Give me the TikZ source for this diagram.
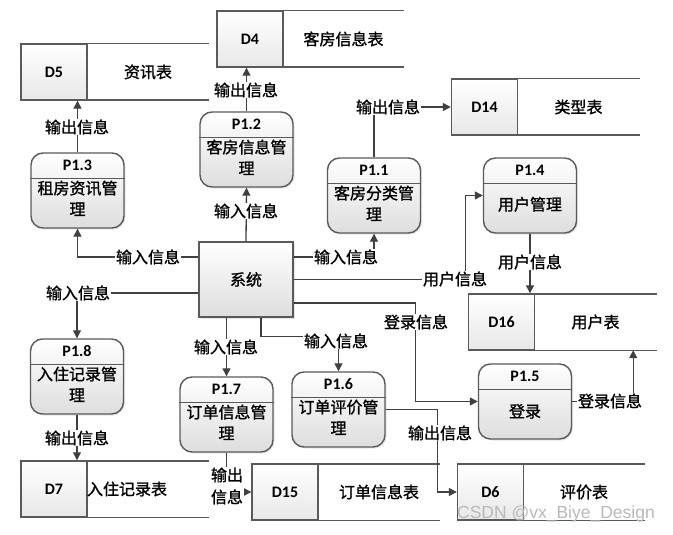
\documentclass[tikz,border=0pt]{standalone}
\usepackage{fontspec}
\setmainfont{Carlito}
\newfontfamily\cjk[FakeBold=1.2]{Noto Sans CJK SC}
\newfontfamily\wmfont{Liberation Sans}
\usetikzlibrary{arrows.meta,shadows}

\definecolor{linegray}{HTML}{404040}
\definecolor{boxgray}{HTML}{5A5A5A}
\definecolor{fillgray}{HTML}{DEDEDE}

\tikzset{
  flow/.style={draw=linegray, line width=1.3pt, -{Triangle[length=8pt,width=8pt]}},
  proc/.style={draw=boxgray, line width=1.4pt, rounded corners=12pt,
    minimum width=93pt, minimum height=75pt, top color=white, bottom color=fillgray,
    drop shadow={shadow xshift=1.5pt, shadow yshift=-1.5pt, opacity=0.2}},
  sysbox/.style={draw=boxgray, line width=1.4pt, minimum width=94pt, minimum height=75pt,
    top color=white, bottom color=fillgray,
    drop shadow={shadow xshift=1.5pt, shadow yshift=-1.5pt, opacity=0.2}},
  divline/.style={draw=boxgray, line width=1.2pt},
  ptitle/.style={font=\bfseries\fontsize{16}{19}\selectfont, inner sep=0pt},
  ptext/.style={font=\cjk\fontsize{16}{21}\selectfont, align=center, inner sep=0pt},
  storeid/.style={draw=boxgray, line width=1.4pt, minimum width=66pt, minimum height=56pt,
    top color=white, bottom color=fillgray!70, font=\bfseries\fontsize{16}{19}\selectfont},
  storename/.style={minimum height=56pt, inner sep=0pt, font=\cjk\fontsize{16}{21}\selectfont},
  storeline/.style={draw=boxgray, line width=1.4pt},
  lbl/.style={fill=white, inner sep=1pt, font=\cjk\fontsize{16}{21}\selectfont, align=center}
}

\begin{document}
\begin{tikzpicture}[x=1pt,y=-1pt]
    \useasboundingbox (0,0) rectangle (673,535);

    % data stores
    \node[storeid] (d5) at (54,72) {D5};
    \node[storename, minimum width=122pt] (d5n) at (148,72) {资讯表\hspace{12pt}};
    \node[storeid] (d4) at (250,39) {D4};
    \node[storename, minimum width=121pt] (d4n) at (343.5,39) {客房信息表};
    \node[storeid] (d14) at (484.5,107) {D14};
    \node[storename, minimum width=123pt] (d14n) at (578.5,107) {类型表};
    \node[storeid] (d16) at (501.5,322) {D16};
    \node[storename, minimum width=123pt] (d16n) at (595.5,322) {用户表};
    \node[storeid] (d7) at (54,489) {D7};
    \node[storename, text width=122pt, align=left] (d7n) at (148,489) {入住记录表};
    \node[storeid] (d15) at (285,492) {D15};
    \node[storename, minimum width=122pt] (d15n) at (379,492) {订单信息表};
    \node[storeid] (d6) at (490.5,492) {D6};
    \node[storename, minimum width=122pt] (d6n) at (584,492) {评价表\hspace{22pt}};
    \foreach \s in {d5n,d4n,d14n,d16n,d7n,d15n,d6n} {
        \draw[storeline] (\s.north west) -- (\s.north east);
        \draw[storeline] (\s.south west) -- (\s.south east);
    }

    % processes
    \node[proc] (p13) at (77.5,190.5) {};
    \node[proc] (p12) at (246.5,149.5) {};
    \node[proc] (p11) at (374,195.5) {};
    \node[proc] (p14) at (530,195.5) {};
    \node[proc] (p18) at (77,376.5) {};
    \node[proc] (p17) at (226.5,414.5) {};
    \node[proc] (p16) at (338.5,409.5) {};
    \node[proc] (p15) at (525,401.5) {};
    \foreach \p in {p13,p12,p11,p14,p18,p17,p16,p15}
        \draw[divline] ([yshift=-26]\p.north west) -- ([yshift=-26]\p.north east);

    \node[ptitle] (p13h) at ([yshift=-13]p13.north) {P1.3};
    \node[ptext] (p13b) at ([yshift=-46]p13.north) {租房资讯管\\理};
    \node[ptitle] (p12h) at ([yshift=-13]p12.north) {P1.2};
    \node[ptext] (p12b) at ([yshift=-46]p12.north) {客房信息管\\理};
    \node[ptitle] (p11h) at ([yshift=-13]p11.north) {P1.1};
    \node[ptext] (p11b) at ([yshift=-46]p11.north) {客房分类管\\理};
    \node[ptitle] (p14h) at ([yshift=-13]p14.north) {P1.4};
    \node[ptext] (p14b) at ([yshift=-47]p14.north) {用户管理};
    \node[ptitle] (p18h) at ([yshift=-13]p18.north) {P1.8};
    \node[ptext] (p18b) at ([yshift=-46]p18.north) {入住记录管\\理};
    \node[ptitle] (p17h) at ([yshift=-13]p17.north) {P1.7};
    \node[ptext] (p17b) at ([yshift=-46]p17.north) {订单信息管\\理};
    \node[ptitle] (p16h) at ([yshift=-13]p16.north) {P1.6};
    \node[ptext] (p16b) at ([yshift=-46]p16.north) {订单评价管\\理};
    \node[ptitle] (p15h) at ([yshift=-13]p15.north) {P1.5};
    \node[ptext] (p15b) at ([yshift=-48]p15.north) {登录};

    % system
    \node[sysbox, font=\cjk\fontsize{16}{21}\selectfont] (sys) at (246,279.5) {系统};

    % data flows
    \draw[flow] (p13.north) -- (p13.north |- d5.south);
    \draw[flow] (p12.north) -- (p12.north |- d4.south);
    \draw[flow] (sys.north) -- (p12.south);
    \draw[flow] ([yshift=22.5]sys.west) -| (p13.south);
    \draw[flow] ([yshift=-13.5]sys.west) -| (p18.north);
    \draw[flow] ([yshift=22.5]sys.east) -| (p11.south);
    \draw[flow] (p11.north) |- (d14.west);
    \draw[flow] (sys.east) -| ([xshift=-17]p14.west) -- (p14.west);
    \draw[flow] (p14.south) -- (p14.south |- d16.north);
    \draw[flow] ([yshift=-23.5]sys.east) -| ([xshift=-62]p15.west) -- (p15.west);
    \draw[flow] (p15.east) -| ([xshift=-24]d16n.south east);
    \draw[flow] (p17.north |- sys.south) -- (p17.north);
    \draw[flow] ([xshift=15]sys.south) |- ([yshift=35]p16.north) -- (p16.north);
    \draw[flow] (p18.south) -- (p18.south |- d7.north);
    \draw[flow] (p17.south) |- (d15.west);
    \draw[flow] (p16.east) -| ([xshift=-19]d6.west) -- (d6.west);

    % flow labels
    \node[lbl] (l1) at (77,127) {输出信息};
    \node[lbl] (l2) at (246,90) {输出信息};
    \node[lbl] (l3) at (246,211) {输入信息};
    \node[lbl] (l4) at (148,257) {输入信息};
    \node[lbl] (l5) at (78,293) {输入信息};
    \node[lbl] (l6) at (346,257) {输入信息};
    \node[lbl] (l7) at (388,107) {输出信息};
    \node[lbl] (l8) at (455,279) {用户信息};
    \node[lbl] (l9) at (530,262) {用户信息};
    \node[lbl] (l10) at (416,322) {登录信息};
    \node[lbl] (l11) at (610,401) {登录信息};
    \node[lbl] (l12) at (226,347) {输入信息};
    \node[lbl] (l13) at (336,341) {输入信息};
    \node[lbl] (l14) at (77,438) {输出信息};
    \node[lbl, font=\cjk\fontsize{16}{22}\selectfont] (l15) at (227,486) {输出\\信息};
    \node[lbl] (l16) at (440,433) {输出信息};

    \node[text=gray!55, font=\wmfont\fontsize{17.5}{20}\selectfont] (wm) at (556,514) {CSDN @vx\_Biye\_Design};
\end{tikzpicture}
\end{document}
